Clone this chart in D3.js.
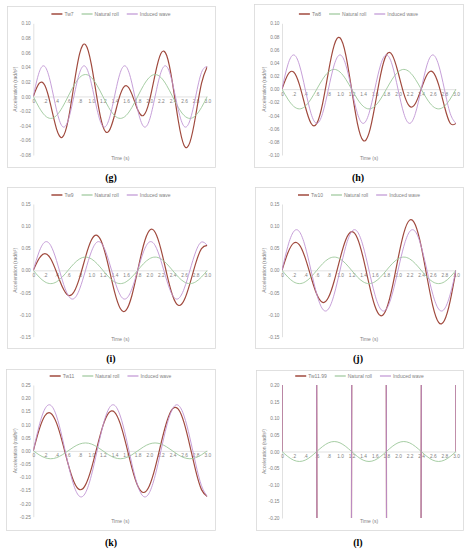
<!DOCTYPE html>
<html><head><meta charset="utf-8">
<script src="https://cdn.jsdelivr.net/npm/d3@7/dist/d3.min.js"></script>
<style>body{margin:0;background:#fff}svg{display:block}</style>
</head><body><svg id="c" width="469" height="550"></svg>
<script>
// ---------- DATA ----------
const time = [0,0.1,0.2,0.3,0.4,0.5,0.6,0.7,0.8,0.9,1.0,1.1,1.2,1.3,1.4,1.5,1.6,1.7,1.8,1.9,2.0,2.1,2.2,2.3,2.4,2.5,2.6,2.7,2.8,2.9,3.0];
const naturalRoll = [0,-0.015,-0.026,-0.03,-0.026,-0.015,0,0.015,0.026,0.03,0.026,0.015,0,-0.015,-0.026,-0.03,-0.026,-0.015,0,0.015,0.026,0.03,0.026,0.015,0,-0.015,-0.026,-0.03,-0.026,-0.015,0];

const waveG = [0,0.0328,0.0409,0.0182,-0.0182,-0.0409,-0.0328,0,0.0328,0.0409,0.0182,-0.0182,-0.0409,-0.0328,0,0.0328,0.0409,0.0182,-0.0182,-0.0409,-0.0328,0,0.0328,0.0409,0.0182,-0.0182,-0.0409,-0.0328,0,0.0328,0.0409];
const twG = [0,0.0178,0.0149,-0.0118,-0.0442,-0.0559,-0.0328,0.015,0.0588,0.0709,0.0442,-0.0032,-0.0409,-0.0478,-0.026,0.0028,0.0149,0.0032,-0.0182,-0.0259,-0.0068,0.03,0.0588,0.0559,0.0182,-0.0332,-0.0669,-0.0628,-0.026,0.0178,0.0409];

const waveH = [0,0.0368,0.052,0.0368,0,-0.0368,-0.052,-0.0368,0,0.0368,0.052,0.0368,0,-0.0368,-0.052,-0.0368,0,0.0368,0.052,0.0368,0,-0.0368,-0.052,-0.0368,0,0.0368,0.052,0.0368,0,-0.0368,-0.052];
const twH = [0,0.0218,0.026,0.0068,-0.026,-0.0518,-0.052,-0.0218,0.026,0.0668,0.078,0.0518,0,-0.0518,-0.078,-0.0668,-0.026,0.0218,0.052,0.0518,0.026,-0.0068,-0.026,-0.0218,0,0.0218,0.026,0.0068,-0.026,-0.0518,-0.052];

const waveI = [0,0.0418,0.064,0.0563,0.0222,-0.0222,-0.0563,-0.064,-0.0418,0,0.0418,0.064,0.0563,0.0222,-0.0222,-0.0563,-0.064,-0.0418,0,0.0418,0.064,0.0563,0.0222,-0.0222,-0.0563,-0.064,-0.0418,0,0.0418,0.064,0.0563];
const twI = [0,0.0268,0.038,0.0263,-0.0038,-0.0372,-0.0563,-0.049,-0.0158,0.03,0.0678,0.079,0.0563,0.0072,-0.0482,-0.0863,-0.09,-0.0568,0,0.0568,0.09,0.0863,0.0482,-0.0072,-0.0563,-0.079,-0.0678,-0.03,0.0158,0.049,0.0563];

const waveJ = [0,0.0541,0.0875,0.0875,0.0541,0,-0.0541,-0.0875,-0.0875,-0.0541,0,0.0541,0.0875,0.0875,0.0541,0,-0.0541,-0.0875,-0.0875,-0.0541,0,0.0541,0.0875,0.0875,0.0541,0,-0.0541,-0.0875,-0.0875,-0.0541,0];
const twJ = [0,0.0391,0.0615,0.0575,0.0281,-0.015,-0.0541,-0.0725,-0.0615,-0.0241,0.026,0.0691,0.0875,0.0725,0.0281,-0.03,-0.0801,-0.1025,-0.0875,-0.0391,0.026,0.0841,0.1135,0.1025,0.0541,-0.015,-0.0801,-0.1175,-0.1135,-0.0691,0];

const waveK = [0,0.0946,0.1592,0.1732,0.1322,0.0493,-0.0493,-0.1322,-0.1732,-0.1592,-0.0946,0,0.0946,0.1592,0.1732,0.1322,0.0493,-0.0493,-0.1322,-0.1732,-0.1592,-0.0946,0,0.0946,0.1592,0.1732,0.1322,0.0493,-0.0493,-0.1322,-0.1732];
const twK = [0,0.0796,0.1332,0.1432,0.1062,0.0343,-0.0493,-0.1172,-0.1472,-0.1292,-0.0686,0.015,0.0946,0.1442,0.1472,0.1022,0.0233,-0.0643,-0.1322,-0.1582,-0.1332,-0.0646,0.026,0.1096,0.1592,0.1582,0.1062,0.0193,-0.0753,-0.1472,-0.1732];

const waveL = [0,10,17.32,20,17.32,10,0,-10,-17.32,-20,-17.32,-10,0,10,17.32,20,17.32,10,0,-10,-17.32,-20,-17.32,-10,0,10,17.32,20,17.32,10,0];
const twL = [0,9.985,17.294,19.97,17.294,9.985,0,-9.985,-17.294,-19.97,-17.294,-9.985,0,9.985,17.294,19.97,17.294,9.985,0,-9.985,-17.294,-19.97,-17.294,-9.985,0,9.985,17.294,19.97,17.294,9.985,0];

const panelLabels = ["(g)","(h)","(i)","(j)","(k)","(l)"];
const twLabels = ["Tw7","Tw8","Tw9","Tw10","Tw11","Tw11.99"];
const otherLabels = ["Natural roll","Induced wave"];
const xTickValues = [0,0.2,0.4,0.6,0.8,1.0,1.2,1.4,1.6,1.8,2.0,2.2,2.4,2.6,2.8,3.0];
const xTickLabels = ["0",".2",".4",".6",".8","1.0","1.2","1.4","1.6","1.8","2.0","2.2","2.4","2.6","2.8","3.0"];
const yTicksG = [-0.08,-0.06,-0.04,-0.02,0,0.02,0.04,0.06,0.08,0.10];
const yTicksH = [-0.10,-0.08,-0.06,-0.04,-0.02,0,0.02,0.04,0.06,0.08,0.10];
const yTicksIJ = [-0.15,-0.10,-0.05,0,0.05,0.10,0.15];
const yTicksK = [-0.25,-0.20,-0.15,-0.10,-0.05,0,0.05,0.10,0.15,0.20,0.25];
const yTicksL = [-0.20,-0.15,-0.10,-0.05,0,0.05,0.10,0.15,0.20];
const xTitle = "Time (s)";
const yTitle = "Acceleration (rad/s\u00B2)";

// ---------- LAYOUT ----------
const panels = [
  {tw: twG, wave: waveG, ticks: yTicksG, frame:[7,6,215,167], px:[33.3,207.3], py:[155,23.3], ly:14, lab:[111,181]},
  {tw: twH, wave: waveH, ticks: yTicksH, frame:[254,4,463,167], px:[282,456], py:[155,23.3], ly:14, lab:[358,181]},
  {tw: twI, wave: waveI, ticks: yTicksIJ, frame:[7,187,215,348], px:[33.3,207.3], py:[336.7,204], ly:195, lab:[111,362]},
  {tw: twJ, wave: waveJ, ticks: yTicksIJ, frame:[255,187,463,348], px:[282,456], py:[336.7,204], ly:195, lab:[358,362]},
  {tw: twK, wave: waveK, ticks: yTicksK, frame:[6,369,215,530], px:[33.3,207.3], py:[516.7,385], ly:376, lab:[111,546]},
  {tw: twL, wave: waveL, ticks: yTicksL, frame:[256,370,463,530], px:[282,456], py:[518,385], ly:376, lab:[358,546]}
];
const colTw = "#a04a3e", colNat = "#9cc79a", colWave = "#bf94d4";
const svg = d3.select("#c");
const font = "Liberation Sans, Arial, sans-serif";

panels.forEach((p, pi) => {
  const g = svg.append("g");
  const [fx0, fy0, fx1, fy1] = p.frame;
  g.append("rect").attr("x", fx0+0.5).attr("y", fy0+0.5).attr("width", fx1-fx0).attr("height", fy1-fy0)
    .attr("fill", "#fff").attr("stroke", "#d9d9d9").attr("stroke-width", 0.8);
  const x = d3.scaleLinear().domain([0, 3]).range(p.px);
  const y = d3.scaleLinear().domain([p.ticks[0], p.ticks[p.ticks.length-1]]).range(p.py);

  // y axis
  const ya = g.append("g").attr("transform", `translate(${p.px[0]},0)`)
    .call(d3.axisLeft(y).tickValues(p.ticks).tickFormat(d => d.toFixed(2)).tickSize(0).tickSizeOuter(0).tickPadding(2.5));
  ya.select(".domain").attr("stroke", "#d9d9d9").attr("stroke-width", 0.8);
  ya.selectAll("text").attr("font-family", font).attr("font-size", 4.8).attr("fill", "#7f7f7f");

  // x axis at zero
  const xa = g.append("g").attr("transform", `translate(0,${y(0)})`)
    .call(d3.axisBottom(x).tickValues(xTickValues).tickFormat((d, i) => xTickLabels[i]).tickSize(0).tickSizeOuter(0).tickPadding(3));
  xa.select(".domain").attr("stroke", "#d9d9d9").attr("stroke-width", 0.8);
  xa.selectAll("text").attr("font-family", font).attr("font-size", 4.8).attr("fill", "#7f7f7f");

  // clip
  const cid = "clip" + pi;
  g.append("clipPath").attr("id", cid).append("rect")
    .attr("x", p.px[0]).attr("y", p.py[1]).attr("width", p.px[1]-p.px[0]).attr("height", p.py[0]-p.py[1]);
  const line = vals => d3.line().x((d, i) => x(time[i])).y(d => y(d)).curve(d3.curveNatural)(vals);
  const lines = g.append("g").attr("clip-path", `url(#${cid})`);
  lines.append("path").attr("d", line(p.tw)).attr("fill", "none").attr("stroke", colTw).attr("stroke-width", 1.2);
  lines.append("path").attr("d", line(naturalRoll)).attr("fill", "none").attr("stroke", colNat).attr("stroke-width", 0.9);
  lines.append("path").attr("d", line(p.wave)).attr("fill", "none").attr("stroke", colWave).attr("stroke-width", 0.9);

  // axis titles
  g.append("text").attr("x", (p.px[0]+p.px[1])/2).attr("y", fy1 - 7.5).attr("text-anchor", "middle")
    .attr("font-family", font).attr("font-size", 5).attr("fill", "#7f7f7f").text(xTitle);
  g.append("text").attr("transform", `translate(${p.px[0]-16},${(p.py[0]+p.py[1])/2}) rotate(-90)`)
    .attr("text-anchor", "middle").attr("font-family", font).attr("font-size", 5).attr("fill", "#7f7f7f").text(yTitle);

  // legend
  const items = [[twLabels[pi], colTw, 1.2], [otherLabels[0], colNat, 0.9], [otherLabels[1], colWave, 0.9]];
  const lg = g.append("g");
  let cx = 0;
  items.forEach(([t, c, w]) => {
    lg.append("line").attr("x1", cx).attr("x2", cx+11).attr("y1", 0).attr("y2", 0).attr("stroke", c).attr("stroke-width", w+0.3);
    const tx = lg.append("text").attr("x", cx+13).attr("y", 1.7).attr("font-family", font).attr("font-size", 5).attr("fill", "#7f7f7f").text(t);
    cx += 13 + tx.node().getComputedTextLength() + 8;
  });
  cx -= 8;
  const center = (fx0+fx1)/2;
  lg.attr("transform", `translate(${center - cx/2},${p.ly})`);

  // panel label
  svg.append("text").attr("x", p.lab[0]).attr("y", p.lab[1]).attr("text-anchor", "middle")
    .attr("font-family", "Liberation Serif, Times New Roman, serif").attr("font-size", 10).attr("font-weight", "bold")
    .attr("fill", "#000").text(panelLabels[pi]);
});
</script></body></html>
